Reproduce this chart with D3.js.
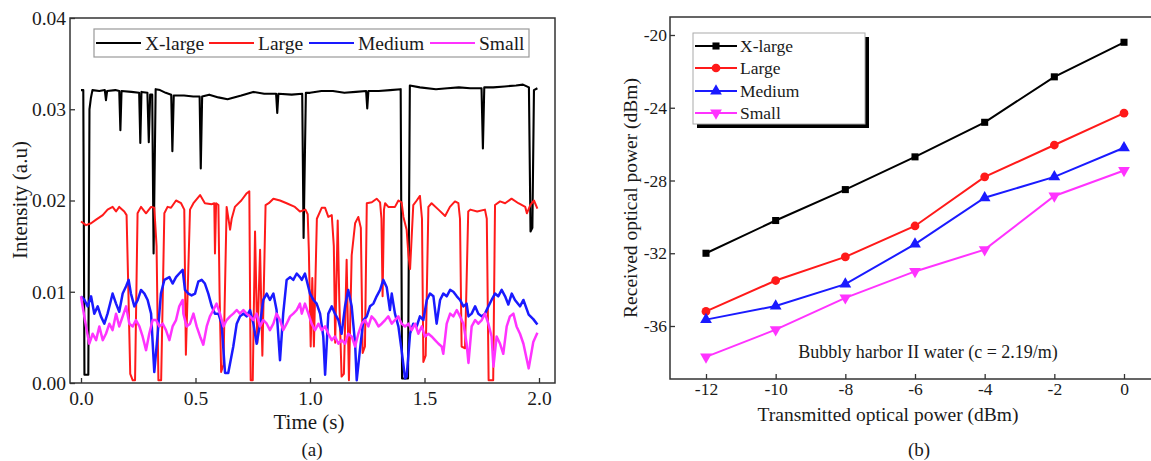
<!DOCTYPE html>
<html><head><meta charset="utf-8">
<script src="https://cdn.jsdelivr.net/npm/d3@7"></script>
<style>
body{margin:0;background:#fff}
svg{display:block}
text{font-family:"Liberation Serif","Times New Roman",serif;fill:#1a1a1a}
</style>
</head><body>
<svg id="c" width="1151" height="461"></svg>
<script>
// ---------- data: panel (a) ----------
const seriesNames = ["X-large", "Large", "Medium", "Small"];
const timeTicks = [0, 0.5, 1.0, 1.5, 2.0];
const intensityTicks = [0, 0.01, 0.02, 0.03, 0.04];

const xLargeTrace = [[0.000,0.0321],[0.010,0.0321],[0.015,0.0009],[0.032,0.0009],[0.037,0.0300],[0.043,0.0312],[0.050,0.0321],[0.080,0.0320],[0.104,0.0321],[0.109,0.0310],[0.114,0.0320],[0.150,0.0321],[0.167,0.0320],[0.172,0.0277],[0.177,0.0320],[0.220,0.0319],[0.254,0.0318],[0.259,0.0263],[0.264,0.0319],[0.290,0.0318],[0.296,0.0264],[0.302,0.0316],[0.311,0.0316],[0.317,0.0142],[0.326,0.0322],[0.345,0.0321],[0.370,0.0318],[0.394,0.0316],[0.399,0.0254],[0.405,0.0315],[0.450,0.0315],[0.490,0.0314],[0.518,0.0314],[0.523,0.0235],[0.529,0.0314],[0.560,0.0316],[0.600,0.0313],[0.640,0.0311],[0.700,0.0315],[0.752,0.0319],[0.800,0.0317],[0.852,0.0317],[0.857,0.0296],[0.862,0.0317],[0.920,0.0316],[0.966,0.0317],[0.972,0.0159],[0.982,0.0318],[1.000,0.0318],[1.050,0.0320],[1.100,0.0320],[1.150,0.0318],[1.200,0.0319],[1.245,0.0320],[1.250,0.0301],[1.255,0.0320],[1.300,0.0320],[1.350,0.0321],[1.396,0.0322],[1.402,0.0005],[1.428,0.0005],[1.436,0.0326],[1.480,0.0324],[1.550,0.0322],[1.600,0.0323],[1.650,0.0324],[1.700,0.0323],[1.749,0.0323],[1.755,0.0257],[1.761,0.0324],[1.800,0.0324],[1.850,0.0325],[1.900,0.0326],[1.930,0.0327],[1.956,0.0324],[1.963,0.0166],[1.971,0.0170],[1.978,0.0321],[1.993,0.0323]];

const largeTrace = [[0.000,0.0177],[0.022,0.0173],[0.044,0.0175],[0.066,0.0179],[0.095,0.0184],[0.116,0.0190],[0.138,0.0193],[0.153,0.0188],[0.167,0.0193],[0.189,0.0188],[0.199,0.0184],[0.206,0.0110],[0.215,0.0010],[0.226,0.0003],[0.236,0.0003],[0.247,0.0186],[0.262,0.0193],[0.284,0.0186],[0.306,0.0193],[0.320,0.0192],[0.330,0.0150],[0.338,0.0003],[0.350,0.0003],[0.364,0.0186],[0.378,0.0193],[0.393,0.0192],[0.415,0.0200],[0.437,0.0197],[0.451,0.0190],[0.458,0.0031],[0.476,0.0190],[0.491,0.0197],[0.520,0.0206],[0.541,0.0197],[0.571,0.0196],[0.582,0.0197],[0.585,0.0142],[0.590,0.0197],[0.600,0.0195],[0.605,0.0100],[0.612,0.0012],[0.622,0.0020],[0.636,0.0193],[0.651,0.0168],[0.658,0.0180],[0.672,0.0193],[0.700,0.0200],[0.724,0.0208],[0.735,0.0210],[0.741,0.0003],[0.750,0.0003],[0.760,0.0166],[0.770,0.0044],[0.782,0.0146],[0.792,0.0030],[0.806,0.0195],[0.820,0.0197],[0.840,0.0202],[0.869,0.0200],[0.898,0.0197],[0.934,0.0193],[0.956,0.0188],[0.980,0.0190],[0.990,0.0185],[0.995,0.0145],[1.003,0.0040],[1.010,0.0115],[1.017,0.0040],[1.030,0.0180],[1.051,0.0192],[1.066,0.0192],[1.080,0.0182],[1.095,0.0184],[1.104,0.0150],[1.110,0.0044],[1.121,0.0178],[1.128,0.0090],[1.138,0.0007],[1.148,0.0010],[1.160,0.0135],[1.170,0.0003],[1.182,0.0140],[1.197,0.0175],[1.211,0.0182],[1.222,0.0170],[1.230,0.0033],[1.240,0.0040],[1.248,0.0197],[1.270,0.0198],[1.291,0.0202],[1.306,0.0198],[1.312,0.0180],[1.317,0.0095],[1.323,0.0190],[1.328,0.0197],[1.342,0.0193],[1.371,0.0193],[1.386,0.0200],[1.400,0.0198],[1.408,0.0182],[1.422,0.0168],[1.430,0.0140],[1.437,0.0125],[1.444,0.0160],[1.451,0.0195],[1.466,0.0200],[1.480,0.0205],[1.489,0.0180],[1.495,0.0023],[1.505,0.0030],[1.517,0.0193],[1.531,0.0197],[1.561,0.0190],[1.590,0.0183],[1.611,0.0193],[1.633,0.0199],[1.648,0.0197],[1.655,0.0180],[1.662,0.0040],[1.677,0.0038],[1.691,0.0188],[1.700,0.0190],[1.730,0.0188],[1.764,0.0190],[1.772,0.0180],[1.780,0.0003],[1.800,0.0003],[1.808,0.0195],[1.830,0.0199],[1.852,0.0197],[1.880,0.0202],[1.910,0.0197],[1.940,0.0193],[1.947,0.0186],[1.962,0.0195],[1.978,0.0200],[1.993,0.0191]];

const mediumTrace = [[0.000,0.0095],[0.015,0.0091],[0.029,0.0084],[0.044,0.0095],[0.058,0.0076],[0.073,0.0084],[0.087,0.0073],[0.102,0.0065],[0.116,0.0076],[0.131,0.0091],[0.138,0.0098],[0.153,0.0087],[0.167,0.0078],[0.182,0.0098],[0.197,0.0106],[0.208,0.0113],[0.218,0.0098],[0.233,0.0084],[0.248,0.0091],[0.262,0.0102],[0.277,0.0098],[0.291,0.0091],[0.306,0.0076],[0.320,0.0012],[0.335,0.0054],[0.349,0.0098],[0.364,0.0113],[0.386,0.0116],[0.400,0.0109],[0.415,0.0116],[0.429,0.0120],[0.444,0.0124],[0.454,0.0102],[0.469,0.0098],[0.483,0.0096],[0.498,0.0098],[0.512,0.0111],[0.527,0.0113],[0.541,0.0109],[0.556,0.0098],[0.571,0.0084],[0.585,0.0076],[0.600,0.0076],[0.614,0.0065],[0.629,0.0011],[0.643,0.0011],[0.665,0.0040],[0.680,0.0065],[0.694,0.0073],[0.709,0.0076],[0.723,0.0073],[0.738,0.0080],[0.753,0.0065],[0.767,0.0043],[0.782,0.0065],[0.796,0.0091],[0.811,0.0098],[0.825,0.0091],[0.840,0.0098],[0.854,0.0080],[0.869,0.0025],[0.883,0.0076],[0.898,0.0113],[0.913,0.0116],[0.927,0.0113],[0.942,0.0120],[0.956,0.0116],[0.964,0.0113],[0.978,0.0120],[0.993,0.0105],[1.000,0.0098],[1.015,0.0091],[1.029,0.0087],[1.044,0.0076],[1.058,0.0051],[1.066,0.0009],[1.080,0.0076],[1.095,0.0084],[1.109,0.0076],[1.124,0.0069],[1.138,0.0054],[1.153,0.0084],[1.167,0.0102],[1.182,0.0084],[1.197,0.0043],[1.204,0.0003],[1.218,0.0036],[1.233,0.0069],[1.248,0.0073],[1.262,0.0084],[1.277,0.0087],[1.291,0.0095],[1.306,0.0102],[1.320,0.0113],[1.335,0.0105],[1.349,0.0080],[1.357,0.0098],[1.371,0.0076],[1.386,0.0062],[1.400,0.0036],[1.415,0.0005],[1.422,0.0007],[1.437,0.0054],[1.451,0.0065],[1.466,0.0062],[1.480,0.0073],[1.495,0.0069],[1.510,0.0091],[1.524,0.0098],[1.539,0.0095],[1.553,0.0065],[1.568,0.0091],[1.582,0.0098],[1.597,0.0095],[1.612,0.0102],[1.626,0.0100],[1.641,0.0095],[1.655,0.0091],[1.670,0.0084],[1.684,0.0087],[1.692,0.0073],[1.706,0.0076],[1.721,0.0084],[1.735,0.0076],[1.750,0.0073],[1.764,0.0076],[1.779,0.0084],[1.793,0.0091],[1.808,0.0098],[1.822,0.0095],[1.837,0.0102],[1.852,0.0095],[1.866,0.0086],[1.881,0.0098],[1.895,0.0091],[1.917,0.0084],[1.932,0.0091],[1.955,0.0075],[1.975,0.0070],[1.993,0.0064]];

const smallTrace = [[0.000,0.0095],[0.007,0.0084],[0.022,0.0062],[0.036,0.0043],[0.051,0.0054],[0.066,0.0047],[0.080,0.0062],[0.095,0.0047],[0.109,0.0054],[0.124,0.0065],[0.138,0.0058],[0.153,0.0076],[0.167,0.0062],[0.182,0.0073],[0.197,0.0084],[0.211,0.0065],[0.226,0.0062],[0.240,0.0069],[0.255,0.0062],[0.269,0.0051],[0.284,0.0036],[0.298,0.0054],[0.313,0.0069],[0.328,0.0069],[0.342,0.0062],[0.357,0.0065],[0.371,0.0058],[0.386,0.0047],[0.400,0.0062],[0.415,0.0069],[0.429,0.0084],[0.444,0.0091],[0.447,0.0076],[0.461,0.0062],[0.476,0.0065],[0.491,0.0076],[0.505,0.0062],[0.520,0.0051],[0.534,0.0042],[0.549,0.0062],[0.563,0.0073],[0.578,0.0080],[0.592,0.0087],[0.607,0.0076],[0.622,0.0062],[0.636,0.0069],[0.651,0.0073],[0.665,0.0076],[0.680,0.0080],[0.694,0.0076],[0.709,0.0080],[0.723,0.0076],[0.738,0.0073],[0.753,0.0069],[0.767,0.0076],[0.782,0.0062],[0.796,0.0069],[0.811,0.0065],[0.825,0.0058],[0.840,0.0065],[0.854,0.0076],[0.869,0.0069],[0.883,0.0058],[0.898,0.0065],[0.913,0.0073],[0.927,0.0076],[0.942,0.0080],[0.956,0.0087],[0.964,0.0076],[0.978,0.0087],[0.993,0.0076],[1.007,0.0065],[1.022,0.0058],[1.037,0.0065],[1.051,0.0058],[1.066,0.0062],[1.080,0.0054],[1.095,0.0047],[1.109,0.0051],[1.124,0.0043],[1.138,0.0047],[1.153,0.0043],[1.167,0.0054],[1.182,0.0051],[1.197,0.0040],[1.211,0.0054],[1.226,0.0065],[1.240,0.0069],[1.255,0.0062],[1.269,0.0073],[1.284,0.0069],[1.299,0.0062],[1.313,0.0065],[1.328,0.0069],[1.342,0.0073],[1.357,0.0065],[1.371,0.0069],[1.386,0.0073],[1.400,0.0065],[1.415,0.0062],[1.430,0.0065],[1.444,0.0058],[1.459,0.0065],[1.473,0.0054],[1.488,0.0062],[1.502,0.0051],[1.517,0.0054],[1.531,0.0051],[1.546,0.0047],[1.561,0.0043],[1.575,0.0040],[1.582,0.0032],[1.597,0.0065],[1.612,0.0076],[1.626,0.0073],[1.641,0.0080],[1.655,0.0073],[1.670,0.0065],[1.684,0.0043],[1.692,0.0022],[1.706,0.0062],[1.721,0.0069],[1.735,0.0065],[1.750,0.0069],[1.764,0.0076],[1.779,0.0065],[1.793,0.0051],[1.801,0.0018],[1.815,0.0051],[1.830,0.0043],[1.844,0.0032],[1.859,0.0062],[1.873,0.0073],[1.888,0.0076],[1.902,0.0062],[1.917,0.0054],[1.932,0.0043],[1.955,0.0016],[1.975,0.0045],[1.993,0.0055]];

// ---------- data: panel (b) ----------
const txPower = [-12, -10, -8, -6, -4, -2, 0];
const rxXLarge = [-32.0, -30.2, -28.5, -26.7, -24.8, -22.3, -20.4];
const rxLarge  = [-35.2, -33.5, -32.2, -30.5, -27.8, -26.05, -24.3];
const rxMedium = [-35.65, -34.9, -33.7, -31.5, -28.95, -27.8, -26.2];
const rxSmall  = [-37.7, -36.2, -34.45, -33.0, -31.8, -28.85, -27.45];
const rxTicks = [-36, -32, -28, -24, -20];
const txTicks = [-12, -10, -8, -6, -4, -2, 0];
const annotation = "Bubbly harbor II water (c = 2.19/m)";

// ---------- styles ----------
const colors = ["#000000", "#ff1a1a", "#1a1aff", "#ff33ff"];

const svg = d3.select("#c");

// ===== Panel (a) =====
const xA = d3.scaleLinear().domain([0, 2]).range([81, 539]);
const yA = d3.scaleLinear().domain([0, 0.04]).range([383, 18]);
const frameA = {x0: 70, x1: 555, y0: 18, y1: 383};
const gA = svg.append("g");

svg.append("clipPath").attr("id", "clipA").append("rect")
  .attr("x", frameA.x0).attr("y", frameA.y0).attr("width", frameA.x1 - frameA.x0).attr("height", frameA.y1 - frameA.y0 + 1);

const lineA = d3.line().x(d => xA(d[0])).y(d => yA(d[1]));
const traces = [xLargeTrace, largeTrace, mediumTrace, smallTrace];
const strokeW = [2.1, 2, 2.5, 2.5];
[0, 1, 2, 3].forEach(i => {
  gA.append("path").attr("d", lineA(traces[i])).attr("fill", "none")
    .attr("stroke", colors[i]).attr("stroke-width", strokeW[i])
    .attr("stroke-linejoin", "round").attr("clip-path", "url(#clipA)");
});

const axA_x = gA.append("g").attr("transform", `translate(0,${frameA.y1})`)
  .call(d3.axisBottom(xA).tickValues(timeTicks).tickFormat(d3.format(".1f")).tickSizeInner(-5).tickSizeOuter(0).tickPadding(8));
const axA_y = gA.append("g").attr("transform", `translate(${frameA.x0},0)`)
  .call(d3.axisLeft(yA).tickValues(intensityTicks).tickFormat(d3.format(".2f")).tickSizeInner(-5).tickSizeOuter(0).tickPadding(4));
[axA_x, axA_y].forEach(a => {
  a.select(".domain").remove();
  a.selectAll("line").attr("stroke", "#333").attr("stroke-width", 1.3);
  a.selectAll("text").attr("font-size", 19.5).attr("font-family", "Liberation Serif").attr("fill", "#1a1a1a");
});
gA.append("rect").attr("x", frameA.x0).attr("y", frameA.y0)
  .attr("width", frameA.x1 - frameA.x0).attr("height", frameA.y1 - frameA.y0)
  .attr("fill", "none").attr("stroke", "#333").attr("stroke-width", 1.5);

gA.append("text").attr("x", 309).attr("y", 429).attr("text-anchor", "middle").attr("font-size", 21).text("Time (s)");
gA.append("text").attr("transform", "translate(27,200) rotate(-90)").attr("text-anchor", "middle").attr("font-size", 21).text("Intensity (a.u)");
gA.append("text").attr("x", 312).attr("y", 456).attr("text-anchor", "middle").attr("font-size", 19).text("(a)");

// legend (a)
const legA = gA.append("g");
legA.append("rect").attr("x", 94).attr("y", 29).attr("width", 435).attr("height", 28)
  .attr("fill", "#fff").attr("stroke", "#999").attr("stroke-width", 1.2);
const legAx = [96, 209, 309, 430];
seriesNames.forEach((n, i) => {
  legA.append("line").attr("x1", legAx[i]).attr("x2", legAx[i] + 45).attr("y1", 43).attr("y2", 43)
    .attr("stroke", colors[i]).attr("stroke-width", 2);
  legA.append("text").attr("x", legAx[i] + 49).attr("y", 49.5).attr("font-size", 19.5).text(n);
});

// ===== Panel (b) =====
const xB = d3.scaleLinear().domain([-12, 0]).range([706, 1124]);
const yB = d3.scaleLinear().domain([-36, -20]).range([326, 35]);
const frameB = {x0: 670, x1: xB(1), y0: 17, y1: 379};
const gB = svg.append("g");

const axB_x = gB.append("g").attr("transform", `translate(0,${frameB.y1})`)
  .call(d3.axisBottom(xB).tickValues(txTicks).tickFormat(d3.format("d")).tickSizeInner(-5).tickSizeOuter(0).tickPadding(4));
const axB_y = gB.append("g").attr("transform", `translate(${frameB.x0},0)`)
  .call(d3.axisLeft(yB).tickValues(rxTicks).tickFormat(d3.format("d")).tickSizeInner(-5).tickSizeOuter(0).tickPadding(3));
[axB_x, axB_y].forEach(a => {
  a.select(".domain").remove();
  a.selectAll("line").attr("stroke", "#333").attr("stroke-width", 1.3);
  a.selectAll("text").attr("font-size", 17.5).attr("font-family", "Liberation Serif").attr("fill", "#1a1a1a");
});
axB_x.selectAll("text").text(d => d < 0 ? "-" + Math.abs(d) : d);
axB_y.selectAll("text").text(d => d < 0 ? "-" + Math.abs(d) : d);
gB.append("rect").attr("x", frameB.x0).attr("y", frameB.y0)
  .attr("width", frameB.x1 - frameB.x0).attr("height", frameB.y1 - frameB.y0)
  .attr("fill", "none").attr("stroke", "#333").attr("stroke-width", 1.5);

const rxSeries = [rxXLarge, rxLarge, rxMedium, rxSmall];
const symbols = [d3.symbolSquare, d3.symbolCircle, d3.symbolTriangle, d3.symbolTriangle];
const symSizes = [50, 60, 60, 60];
const lineB = d3.line().x(d => xB(d[0])).y(d => yB(d[1]));
rxSeries.forEach((vals, i) => {
  const pts = txPower.map((t, k) => [t, vals[k]]);
  gB.append("path").attr("d", lineB(pts)).attr("fill", "none").attr("stroke", colors[i]).attr("stroke-width", 2);
  gB.selectAll(null).data(pts).enter().append("path")
    .attr("d", d3.symbol().type(symbols[i]).size(symSizes[i]))
    .attr("transform", d => `translate(${xB(d[0])},${yB(d[1])})${i === 3 ? " rotate(180)" : ""}`)
    .attr("fill", colors[i]);
});

gB.append("text").attr("x", 888).attr("y", 421).attr("text-anchor", "middle").attr("font-size", 19.5).text("Transmitted optical power (dBm)");
gB.append("text").attr("transform", "translate(637,198) rotate(-90)").attr("text-anchor", "middle").attr("font-size", 19.5).text("Received optical power (dBm)");
gB.append("text").attr("x", 919).attr("y", 456).attr("text-anchor", "middle").attr("font-size", 19).text("(b)");
gB.append("text").attr("x", 928).attr("y", 358).attr("text-anchor", "middle").attr("font-size", 18).text(annotation);

// legend (b)
const legB = gB.append("g");
legB.append("rect").attr("x", 697).attr("y", 37).attr("width", 172).attr("height", 91).attr("fill", "#000");
legB.append("rect").attr("x", 693).attr("y", 33).attr("width", 172).attr("height", 91)
  .attr("fill", "#fff").attr("stroke", "#aaa").attr("stroke-width", 1);
const legBy = [46, 68, 91, 113];
seriesNames.forEach((n, i) => {
  legB.append("line").attr("x1", 695).attr("x2", 737).attr("y1", legBy[i]).attr("y2", legBy[i])
    .attr("stroke", colors[i]).attr("stroke-width", 2);
  legB.append("path").attr("d", d3.symbol().type(symbols[i]).size(symSizes[i])())
    .attr("transform", `translate(716,${legBy[i]})${i === 3 ? " rotate(180)" : ""}`).attr("fill", colors[i]);
  legB.append("text").attr("x", 740).attr("y", legBy[i] + 6).attr("font-size", 17.5).text(n);
});
</script>
</body></html>
